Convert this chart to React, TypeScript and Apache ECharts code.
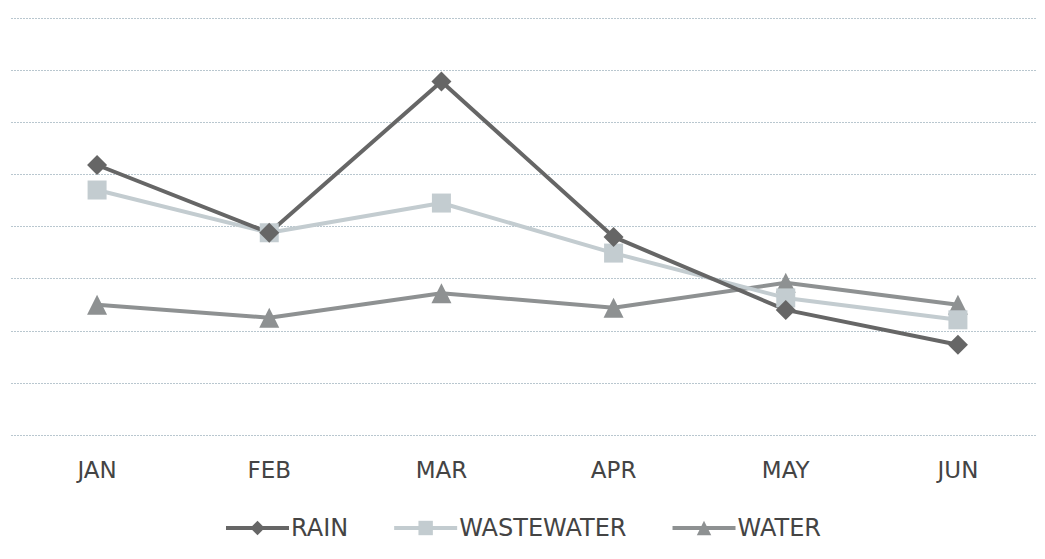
import React, { useEffect, useRef } from "react";
import * as echarts from "echarts";

const categories = ["JAN", "FEB", "MAR", "APR", "MAY", "JUN"];
const rain = [5.18, 3.88, 6.78, 3.8, 2.4, 1.73];
const wastewater = [4.7, 3.88, 4.45, 3.49, 2.63, 2.21];
const water = [2.5, 2.25, 2.72, 2.44, 2.92, 2.5];

const FONT = "'DejaVu Sans', 'Open Sans', sans-serif";

export default function App() {
  const ref = useRef<HTMLDivElement>(null);
  useEffect(() => {
    const chart = echarts.init(ref.current!, null, { renderer: "svg" });
    const mk = (name: string, data: number[], color: string, symbol: string, size: number) => ({
      name,
      type: "line",
      data,
      symbol,
      symbolSize: size,
      lineStyle: { color, width: 4 },
      itemStyle: { color },
      z: 3,
    });
    chart.setOption({
      animation: false,
      backgroundColor: "#ffffff",
      grid: { left: 11, right: 1, top: 18, bottom: 124, containLabel: false },
      xAxis: {
        type: "category",
        data: categories,
        boundaryGap: true,
        axisLine: { show: false },
        axisTick: { show: false },
        axisLabel: { color: "#444444", fontSize: 23, fontFamily: FONT, margin: 23 },
      },
      yAxis: {
        type: "value",
        min: 0,
        max: 8,
        interval: 1,
        axisLabel: { show: false },
        axisLine: { show: false },
        axisTick: { show: false },
        splitLine: { lineStyle: { color: "#b9c7cf", width: 1, type: [2, 1] } },
      },
      legend: {
        bottom: 14,
        left: "center",
        itemWidth: 63,
        itemHeight: 18,
        itemGap: 44,
        lineStyle: { width: 4 },
        textStyle: { color: "#444444", fontSize: 24, fontFamily: FONT, padding: [0, 0, 0, -3] },
        data: ["RAIN", "WASTEWATER", "WATER"],
      },
      series: [
        mk("WATER", water, "#8e9192", "triangle", 20),
        mk("WASTEWATER", wastewater, "#c3ccd0", "rect", 19),
        mk("RAIN", rain, "#666666", "diamond", 20),
      ],
    });
    return () => chart.dispose();
  }, []);
  return <div ref={ref} style={{ width: 1045, height: 559, margin: -8 }} />;
}
